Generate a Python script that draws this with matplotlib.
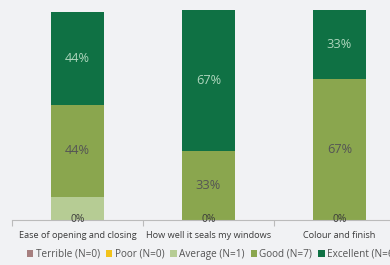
import matplotlib
matplotlib.use("Agg")
import matplotlib.pyplot as plt
from matplotlib.patches import Patch

plt.rcParams['font.family'] = ['Open Sans', 'DejaVu Sans']

categories = ["Ease of opening and closing", "How well it seals my windows", "Colour and finish"]
series = ["Terrible", "Poor", "Average", "Good", "Excellent"]
counts = [0, 0, 1, 7, 6]
values = {
    "Terrible": [0, 0, 0],
    "Poor": [0, 0, 0],
    "Average": [11, 0, 0],
    "Good": [44, 33, 67],
    "Excellent": [44, 67, 33],
}
colors = {
    "Terrible": "#a67f7f",
    "Poor": "#f2c31b",
    "Average": "#b6cc94",
    "Good": "#8aa64e",
    "Excellent": "#0f7144",
}
label_colors = {"Good": "#555555", "Excellent": "#aed6bd"}

bg = "#f1f2f4"
fig = plt.figure(figsize=(3.9, 2.65), dpi=100, facecolor=bg)
ax = fig.add_axes([12/390, 45/265, 393/390, 210/265], facecolor=bg)

x = list(range(len(categories)))
bottom = [0.0] * len(categories)
for s in series:
    vals = values[s]
    ax.bar(x, vals, width=0.405, bottom=bottom, color=colors[s], edgecolor="none", zorder=2)
    for i, v in enumerate(vals):
        if s in ("Good", "Excellent") and v > 0:
            ax.text(i, bottom[i] + v / 2, f"{v}%", ha="center", va="center",
                    fontsize=9.2, color=label_colors[s], zorder=3)
    bottom = [b + v for b, v in zip(bottom, vals)]

for i in x:
    ax.text(i, 0, "0%", ha="center", va="center", fontsize=7.4, color="#3a3a3a", zorder=4)

ax.set_xlim(-0.5, 2.5)
ax.set_ylim(0, 100)
ax.set_yticks([])
ax.set_xticks(x)
ax.set_xticklabels(categories, fontsize=6.6, color="#3a3a3a")
ax.set_xticks([-0.5, 0.5, 1.5, 2.5], minor=True)
ax.tick_params(axis="x", which="major", length=0, pad=8)
ax.tick_params(axis="x", which="minor", length=4, color="#bbbbbb", width=0.8)
for sp in ["top", "right", "left"]:
    ax.spines[sp].set_visible(False)
ax.spines["bottom"].set_color("#bbbbbb")
ax.spines["bottom"].set_linewidth(0.8)

handles = [Patch(facecolor=colors[s], edgecolor="none") for s in series]
labels = [f"{s} (N={n})" for s, n in zip(series, counts)]
fig.legend(handles, labels, loc="center left", bbox_to_anchor=(27/390, 1 - 254.5/265),
           ncol=5, frameon=False, fontsize=7.2, handlelength=0.62, handleheight=0.62,
           handletextpad=0.26, columnspacing=0.6, labelcolor="#555555", borderaxespad=0, borderpad=0)

fig.savefig("out.png", dpi=100, facecolor=bg)
